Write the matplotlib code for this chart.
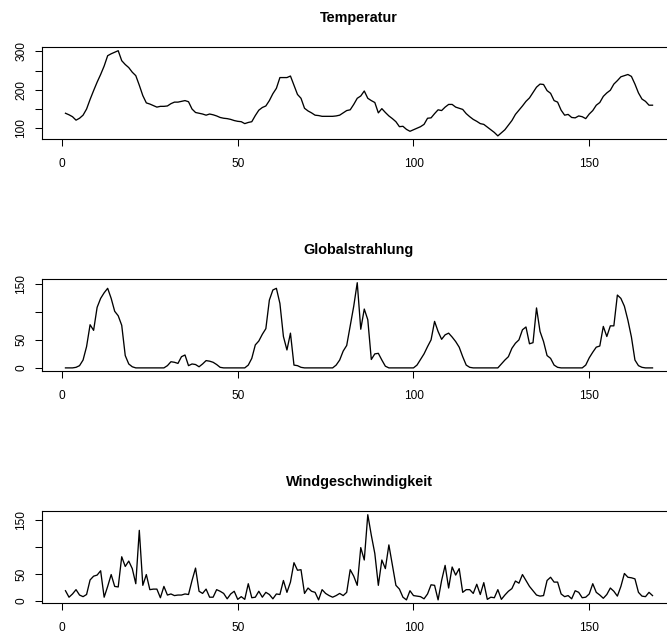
import matplotlib
matplotlib.use("Agg")
import matplotlib.pyplot as plt

# hourly values over one week (hours 1..168)
temperatur = [
    139, 135, 130, 121, 126, 134, 150, 175, 198, 220,
    240, 262, 289, 294, 298, 302, 276, 266, 258, 246,
    237, 212, 185, 166, 163, 159, 155, 157, 157, 158,
    164, 168, 168, 170, 172, 169, 150, 141, 139, 137,
    134, 137, 135, 132, 128, 126, 125, 123, 120, 118,
    117, 112, 115, 117, 133, 147, 154, 158, 172, 190,
    204, 232, 232, 232, 236, 212, 188, 178, 152, 145,
    140, 134, 133, 131, 131, 131, 131, 132, 134, 140,
    146, 148, 162, 178, 184, 197, 178, 172, 167, 140,
    151, 141, 132, 125, 117, 104, 105, 97, 92, 96,
    100, 104, 110, 126, 127, 138, 148, 146, 155, 162,
    162, 155, 152, 149, 138, 130, 123, 118, 112, 110,
    103, 96, 89, 80, 88, 96, 108, 120, 136, 147,
    158, 170, 179, 193, 207, 215, 214, 198, 191, 172,
    168, 147, 134, 136, 128, 127, 132, 130, 125, 137,
    146, 160, 167, 183, 192, 199, 215, 224, 234, 237,
    240, 235, 215, 192, 176, 170, 160, 160,
]

globalstrahlung = [
    0, 0, 0, 1, 4, 14, 38, 77, 67, 108,
    124, 134, 142, 124, 101, 93, 76, 22, 7, 2,
    0, 0, 0, 0, 0, 0, 0, 0, 0, 4,
    11, 10, 8, 20, 23, 4, 7, 6, 2, 7,
    13, 12, 10, 6, 1, 0, 0, 0, 0, 0,
    0, 0, 5, 17, 41, 48, 60, 70, 121, 139,
    142, 115, 56, 32, 62, 5, 4, 1, 0, 0,
    0, 0, 0, 0, 0, 0, 0, 5, 14, 30,
    40, 75, 110, 152, 69, 105, 86, 15, 25, 26,
    14, 3, 0, 0, 0, 0, 0, 0, 0, 0,
    5, 15, 25, 38, 50, 83, 65, 51, 59, 62,
    55, 47, 37, 20, 5, 1, 0, 0, 0, 0,
    0, 0, 0, 0, 7, 14, 20, 35, 44, 50,
    68, 73, 43, 45, 107, 65, 47, 22, 17, 5,
    1, 0, 0, 0, 0, 0, 0, 0, 5, 18,
    28, 37, 39, 74, 56, 75, 75, 130, 124, 110,
    85, 55, 14, 4, 1, 0, 0, 0,
]

windgeschwindigkeit = [
    19, 7, 13, 21, 11, 8, 12, 39, 46, 48,
    56, 7, 27, 49, 27, 26, 82, 64, 74, 60,
    32, 131, 29, 49, 21, 22, 22, 6, 27, 11,
    13, 10, 11, 11, 13, 12, 38, 61, 18, 14,
    22, 7, 7, 21, 18, 14, 4, 13, 18, 3,
    8, 3, 32, 6, 7, 18, 7, 16, 12, 4,
    13, 12, 38, 16, 35, 71, 57, 58, 14, 24,
    18, 16, 2, 21, 14, 10, 7, 10, 14, 10,
    16, 58, 46, 29, 99, 76, 160, 122, 88, 29,
    76, 60, 104, 66, 29, 22, 7, 2, 19, 10,
    9, 8, 4, 13, 30, 29, 2, 38, 66, 24,
    63, 48, 60, 16, 21, 21, 14, 31, 12, 34,
    3, 7, 6, 21, 3, 11, 18, 23, 37, 33,
    49, 38, 27, 19, 11, 9, 10, 38, 44, 35,
    35, 13, 8, 10, 4, 19, 16, 6, 7, 13,
    32, 16, 11, 5, 12, 24, 18, 9, 27, 51,
    44, 43, 41, 16, 9, 8, 16, 10,
]

titles = ["Temperatur", "Globalstrahlung", "Windgeschwindigkeit"]
x_ticks = [0, 50, 100, 150]
y_ticks = [[100, 150, 200, 250, 300], [0, 50, 100, 150], [0, 50, 100, 150]]
y_labels = [["100", "", "200", "", "300"], ["0", "50", "", "150"], ["0", "50", "", "150"]]


def main():
    plt.rcParams['font.family'] = ['Liberation Sans', 'DejaVu Sans']
    fig = plt.figure(figsize=(6.67, 6.32), dpi=100)
    W, H = 667.0, 632.0

    hours = list(range(1, len(temperatur) + 1))
    series = [temperatur, globalstrahlung, windgeschwindigkeit]
    box_bottoms = [139.3, 371.3, 603.3]  # pixel rows of each box bottom

    for k in range(3):
        ax = fig.add_axes([42 / W, 1 - box_bottoms[k] / H, (676 - 42) / W, 92 / H])
        ax.plot(hours, series[k], color='black', lw=0.95)
        ax.margins(x=0.04, y=0.04)  # same padding as R's default axes

        ax.set_xticks(x_ticks)
        ax.set_xticklabels([str(t) for t in x_ticks])
        ax.set_yticks(y_ticks[k])
        ax.set_yticklabels(y_labels[k], rotation=90, va='center')

        ax.tick_params(direction='out', length=5.2, width=0.75, labelsize=8.6, colors='black')
        ax.tick_params(axis='x', pad=8.0)
        ax.tick_params(axis='y', pad=5.5)
        for s in ax.spines.values():
            s.set_linewidth(0.8)
            s.set_color('black')

        ax.set_title(titles[k], fontsize=10.4, fontweight='bold', pad=18)

    fig.savefig('out.png', dpi=100)


if __name__ == "__main__":
    main()
